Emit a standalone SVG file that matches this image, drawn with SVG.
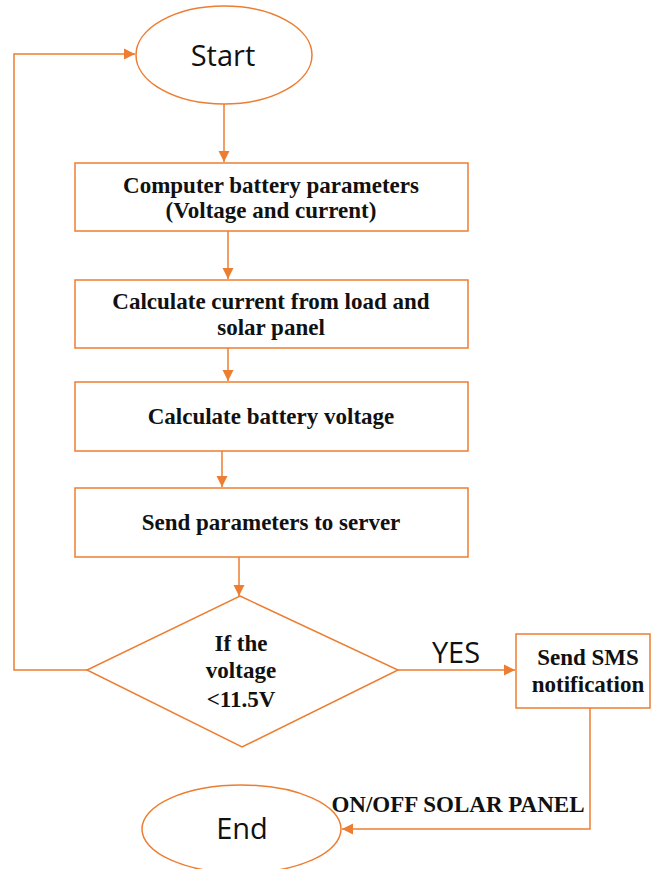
<svg xmlns="http://www.w3.org/2000/svg" width="652" height="869" viewBox="0 0 652 869">
<defs>
<marker id="ah" markerUnits="userSpaceOnUse" markerWidth="12" markerHeight="12" viewBox="0 0 12 12" refX="11" refY="6" orient="auto">
<path d="M0,0.5 L11,6 L0,11.5 Z" fill="#ED7D31"/>
</marker>
<style>
.shape{fill:#FFFFFF;stroke:#ED7D31;stroke-width:1.5}
.conn{fill:none;stroke:#ED7D31;stroke-width:1.5}
.bt{font-family:"Liberation Serif","Times New Roman",serif;font-weight:bold;font-size:23px;fill:#111;text-anchor:middle}
.st{font-family:"Open Sans","Noto Sans",sans-serif;font-size:29px;fill:#111;text-anchor:middle}
</style>
</defs>
<rect width="652" height="869" fill="#FFFFFF"/>
<g id="connectors">
<path class="conn" d="M224,104 L224,162" marker-end="url(#ah)"/>
<path class="conn" d="M228,231 L228,279" marker-end="url(#ah)"/>
<path class="conn" d="M228,348 L228,381" marker-end="url(#ah)"/>
<path class="conn" d="M222,451 L222,487" marker-end="url(#ah)"/>
<path class="conn" d="M239,557 L239,596" marker-end="url(#ah)"/>
<path class="conn" d="M398,670 L515,670" marker-end="url(#ah)"/>
<path class="conn" d="M87,670 L14,670 L14,54 L135,54" marker-end="url(#ah)"/>
<path class="conn" d="M590,708 L590,829 L342,829" marker-end="url(#ah)"/>
</g>
<g id="start">
<ellipse class="shape" cx="224" cy="55" rx="88" ry="49"/>
<text class="st" x="223" y="66">Start</text>
</g>
<g id="box1">
<rect class="shape" x="75" y="163" width="393" height="68"/>
<text class="bt" x="271" y="193">Computer battery parameters</text>
<text class="bt" x="271" y="218">(Voltage and current)</text>
</g>
<g id="box2">
<rect class="shape" x="75" y="280" width="393" height="68"/>
<text class="bt" x="271" y="309">Calculate current from load and</text>
<text class="bt" x="271" y="335">solar panel</text>
</g>
<g id="box3">
<rect class="shape" x="75" y="382" width="393" height="69"/>
<text class="bt" x="271" y="424">Calculate battery voltage</text>
</g>
<g id="box4">
<rect class="shape" x="75" y="488" width="393" height="69"/>
<text class="bt" x="271" y="530">Send parameters to server</text>
</g>
<g id="decision">
<polygon class="shape" points="240,596 398,670 242,747 87,670"/>
<text class="bt" x="241" y="651">If the</text>
<text class="bt" x="241" y="678">voltage</text>
<text class="bt" x="241" y="707">&lt;11.5V</text>
</g>
<g id="yes-label">
<text class="st" x="456" y="663">YES</text>
</g>
<g id="sms">
<rect class="shape" x="516" y="634" width="134" height="74"/>
<text class="bt" x="588" y="665">Send SMS</text>
<text class="bt" x="588" y="692">notification</text>
</g>
<g id="onoff-label">
<text class="bt" x="458" y="812" font-size="22px">ON/OFF SOLAR PANEL</text>
</g>
<g id="end">
<ellipse class="shape" cx="241.5" cy="829" rx="99.5" ry="44"/>
<text class="st" x="242" y="839">End</text>
</g>
</svg>
